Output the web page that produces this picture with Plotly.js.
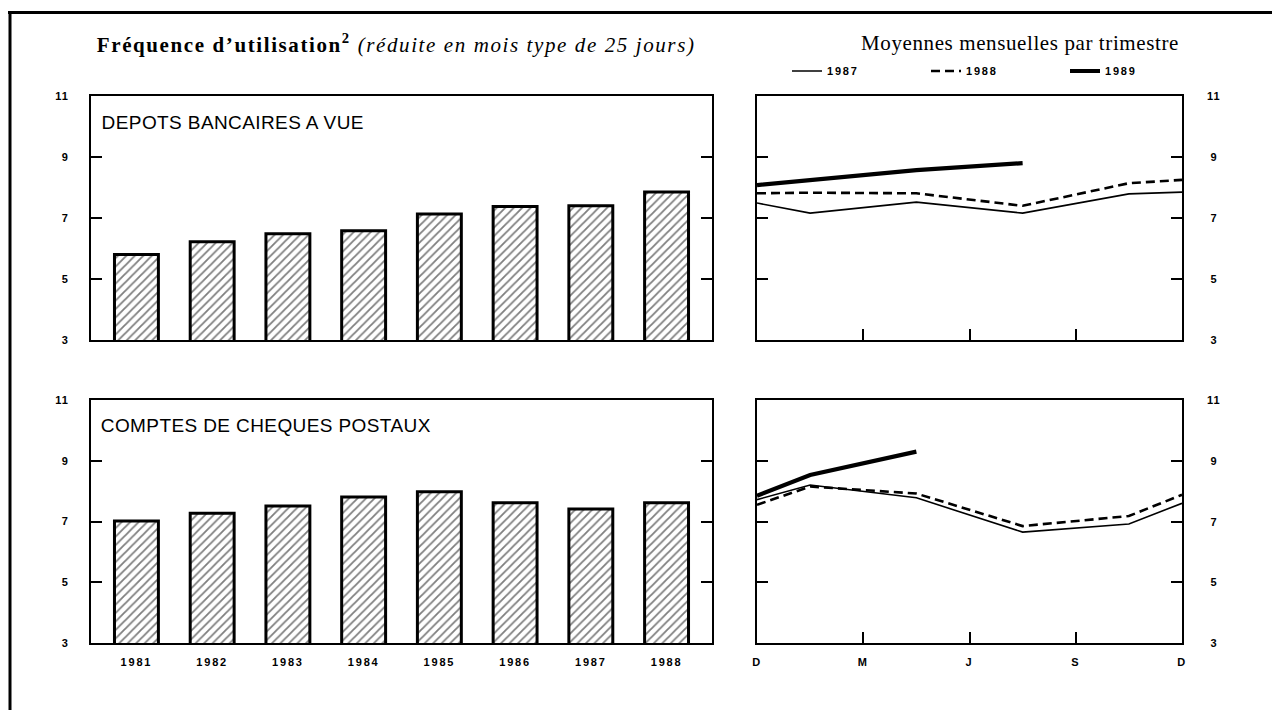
<!DOCTYPE html>
<html>
<head>
<meta charset="utf-8">
<script src="https://cdn.plot.ly/plotly-3.0.1.min.js"></script>
<style>
html,body{margin:0;padding:0;background:#fff;overflow:hidden;width:1272px;height:710px;}
#chart{width:1272px;height:710px;}
g.annotation[data-index="0"] text{letter-spacing:1.6px;}
g.annotation[data-index="1"] text{letter-spacing:0.6px;}
g.annotation[data-index="2"] text, g.annotation[data-index="3"] text{letter-spacing:0.4px;}
g.xtick text, g.x3tick text, g.x4tick text{letter-spacing:1.8px;}
g.ytick text, g.y3tick text{letter-spacing:1px;}
g.annotation.rlab text{letter-spacing:1px;}
g.legend text.legendtext{letter-spacing:1.8px;}
</style>
</head>
<body>
<div id="chart"></div>
<script>
// ---- Data ----
const years = ['1981','1982','1983','1984','1985','1986','1987','1988'];
const depotsBancaires = [5.80, 6.22, 6.48, 6.58, 7.13, 7.38, 7.40, 7.85];
const chequesPostaux = [7.02, 7.27, 7.51, 7.81, 7.98, 7.62, 7.41, 7.62];

// quarter positions (D=0, M=1, J=2, S=3, D=4); monthly averages per quarter
const quarterX = [0, 0.5, 1.5, 2.5, 3.5, 4];
const monthTickVals = [0, 1, 2, 3, 4];
const monthTickText = ['D', 'M', 'J', 'S', 'D'];

const dep1987 = [7.49, 7.16, 7.52, 7.16, 7.79, 7.85];
const dep1988 = [7.81, 7.83, 7.81, 7.40, 8.14, 8.25];
const dep1989 = [8.08, 8.24, 8.57, 8.80];

const ccp1987 = [7.72, 8.20, 7.78, 6.65, 6.92, 7.60];
const ccp1988 = [7.55, 8.15, 7.92, 6.85, 7.18, 7.88];
const ccp1989 = [7.85, 8.53, 9.30];

const yTicks = [3, 5, 7, 9, 11];
const seriesNames = ['1987', '1988', '1989'];

// ---- Styles ----
const W = 1272, H = 710;
const px = v => v / W;
const py = v => 1 - v / H;
const tickFont = {family: 'Liberation Sans, Arial, sans-serif', size: 11, color: '#000', weight: 'bold'};
const lineStyles = [
  {color: '#000', width: 1.6, dash: 'solid'},
  {color: '#000', width: 2.6, dash: '9px,5px'},
  {color: '#000', width: 4.2, dash: 'solid'}
];

function barTrace(y, xa, ya) {
  return {
    type: 'bar', x: years, y: y, xaxis: xa, yaxis: ya, width: 0.58,
    showlegend: false, hoverinfo: 'skip',
    marker: {
      color: '#fff',
      line: {color: '#000', width: 3},
      pattern: {shape: '/', fgcolor: '#000', bgcolor: '#fff', size: 6, solidity: 0.3, fillmode: 'overlay'}
    }
  };
}
function lineTrace(y, i, xa, ya, legend) {
  return {
    type: 'scatter', mode: 'lines', x: quarterX.slice(0, y.length), y: y,
    xaxis: xa, yaxis: ya, name: seriesNames[i], showlegend: legend,
    line: lineStyles[i], hoverinfo: 'skip', cliponaxis: false
  };
}

const data = [
  barTrace(depotsBancaires, 'x', 'y'),
  barTrace(chequesPostaux, 'x3', 'y3'),
  lineTrace(dep1987, 0, 'x2', 'y2', true),
  lineTrace(dep1988, 1, 'x2', 'y2', true),
  lineTrace(dep1989, 2, 'x2', 'y2', true),
  lineTrace(ccp1987, 0, 'x4', 'y4', false),
  lineTrace(ccp1988, 1, 'x4', 'y4', false),
  lineTrace(ccp1989, 2, 'x4', 'y4', false)
];

const leftDom = [px(91), px(712)];
const rightDom = [px(757), px(1182)];
const topDom = [py(340), py(96)];
const botDom = [py(643), py(400)];

function barX(anchor, dom, labels) {
  return {
    domain: dom, anchor: anchor, type: 'category', range: [-0.6, 7.6],
    showline: true, linecolor: '#000', linewidth: 2, mirror: true,
    ticks: '', showticklabels: labels, tickfont: tickFont, ticklabelstandoff: 8,
    showgrid: false, zeroline: false, fixedrange: true, automargin: false
  };
}
function monthX(anchor, dom, labels) {
  return {
    domain: dom, anchor: anchor, range: [0, 4],
    tickvals: monthTickVals, ticktext: monthTickText,
    showline: true, linecolor: '#000', linewidth: 2, mirror: true,
    ticks: 'inside', ticklen: 11, tickwidth: 2, tickcolor: '#000',
    showticklabels: labels, tickfont: tickFont, ticklabelstandoff: 8,
    showgrid: false, zeroline: false, fixedrange: true, automargin: false
  };
}
function valY(anchor, dom, side, labels) {
  return {
    domain: dom, anchor: anchor, range: [3, 11], side: side,
    tickvals: yTicks, showline: true, linecolor: '#000', linewidth: 2, mirror: 'ticks',
    ticks: 'inside', ticklen: 11, tickwidth: 2, tickcolor: '#000',
    showticklabels: labels, tickfont: tickFont, ticklabelstandoff: 18,
    showgrid: false, zeroline: false, fixedrange: true, automargin: false
  };
}

// value labels to the right of the right-hand panels, placed through the panels' y scales
function rightLabels(yref) {
  return yTicks.map(v => ({
    xref: 'paper', yref: yref, x: px(1214), y: v, xanchor: 'center', yanchor: 'middle',
    showarrow: false, text: String(v), font: tickFont
  }));
}

const serif = 'Liberation Serif, Times New Roman, serif';
const layout = {
  width: W, height: H, autosize: false,
  margin: {l: 0, r: 0, t: 0, b: 0, pad: 0, autoexpand: false},
  paper_bgcolor: '#fff', plot_bgcolor: '#fff',
  xaxis: barX('y', leftDom, false),
  yaxis: valY('x', topDom, 'left', true),
  xaxis2: monthX('y2', rightDom, false),
  yaxis2: valY('x2', topDom, 'right', false),
  xaxis3: barX('y3', leftDom, true),
  yaxis3: valY('x3', botDom, 'left', true),
  xaxis4: monthX('y4', rightDom, true),
  yaxis4: valY('x4', botDom, 'right', false),
  showlegend: true,
  legend: {
    orientation: 'h', x: px(787), y: py(71), xanchor: 'left', yanchor: 'middle',
    entrywidth: 94, entrywidthmode: 'pixels', bgcolor: 'rgba(0,0,0,0)',
    font: {family: 'Liberation Sans, Arial, sans-serif', size: 11, color: '#000', weight: 'bold'},
    itemclick: false, itemdoubleclick: false
  },
  shapes: [
    {type: 'line', xref: 'paper', yref: 'paper', x0: px(8), x1: 1, y0: py(12.5), y1: py(12.5), line: {color: '#000', width: 3}},
    {type: 'line', xref: 'paper', yref: 'paper', x0: px(10), x1: px(10), y0: py(11), y1: 0, line: {color: '#000', width: 3}}
  ],
  annotations: [
    {xref: 'paper', yref: 'paper', x: px(396), y: py(43), xanchor: 'center', yanchor: 'middle', showarrow: false,
     text: '<b>Fréquence d’utilisation</b><sup><b>2</b></sup> <i>(réduite en mois type de 25 jours)</i>',
     font: {family: serif, size: 21, color: '#000'}},
    {xref: 'paper', yref: 'paper', x: px(1020), y: py(43), xanchor: 'center', yanchor: 'middle', showarrow: false,
     text: 'Moyennes mensuelles par trimestre',
     font: {family: serif, size: 21, color: '#000'}},
    {xref: 'paper', yref: 'paper', x: px(104), y: py(122), xanchor: 'left', yanchor: 'middle', showarrow: false,
     text: 'DEPOTS BANCAIRES A VUE',
     font: {family: 'Liberation Sans, Arial, sans-serif', size: 19, color: '#000'}},
    {xref: 'paper', yref: 'paper', x: px(104), y: py(425), xanchor: 'left', yanchor: 'middle', showarrow: false,
     text: 'COMPTES DE CHEQUES POSTAUX',
     font: {family: 'Liberation Sans, Arial, sans-serif', size: 19, color: '#000'}}
  ].concat(rightLabels('y2'), rightLabels('y4'))
};

Plotly.newPlot('chart', data, layout, {staticPlot: true, displayModeBar: false}).then(() => {
  document.querySelectorAll('g.annotation').forEach(g => {
    if (+g.getAttribute('data-index') >= 4) g.classList.add('rlab');
  });
});
</script>
</body>
</html>
